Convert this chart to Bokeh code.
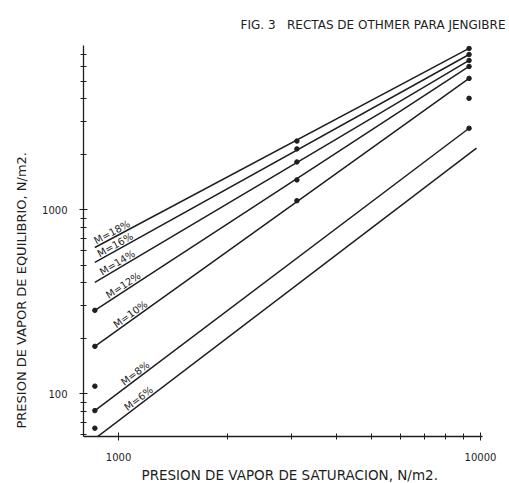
import math
from bokeh.plotting import figure
from bokeh.models import FixedTicker, NumeralTickFormatter, ColumnDataSource, Range1d, Title
from bokeh.core.properties import value
from bokeh.embed import file_html
from bokeh.resources import INLINE

# ---- data ----
moisture_labels = ["M=18%", "M=16%", "M=14%", "M=12%", "M=10%", "M=8%", "M=6%"]
# line end points (saturation pressure, equilibrium pressure), N/m2
line_x0 = [860, 860, 860, 860, 860, 860, 870]
line_x1 = [9300, 9300, 9300, 9300, 9300, 9300, 9750]
line_y0 = [623, 517, 403, 284, 181, 81, 58]
line_y1 = [7520, 6970, 6470, 6000, 5170, 2770, 2160]
# measured points
pts_x = [9300, 9300, 9300, 9300, 9300, 9300,
         3110, 3110, 3110, 3110, 3110,
         860, 860, 860, 860, 860]
pts_y = [7520, 6970, 6470, 6000, 5170, 2770,
         2360, 2140, 1817, 1452, 1119,
         284, 181, 81, 110, 65]
extra_x = [9300]
extra_y = [4030]
# label anchor abscissa on each line
label_at = [975, 995, 1010, 1050, 1100, 1135, 1160]

x_major = [1000, 10000]
x_minor = [2000, 3000, 4000, 5000, 6000, 7000, 8000, 9000]
y_major = [100, 1000]
y_minor = [60, 70, 80, 90, 200, 300, 400, 500, 600, 700, 800, 900,
           2000, 3000, 4000, 5000, 6000, 7000]

XR = (800, 10130)
YR = (58.6, 7800)
FW, FH = 400, 393

FONT = "DejaVu Sans"
INK = "#1e1e1e"

p = figure(width=509, height=483, x_axis_type="log", y_axis_type="log",
           x_range=Range1d(*XR), y_range=Range1d(*YR),
           output_backend="svg", toolbar_location=None,
           min_border_left=82, min_border_right=27, min_border_top=45, min_border_bottom=45)
p.grid.visible = False
p.outline_line_color = None
p.background_fill_color = "white"
p.border_fill_color = "white"

p.title.text = "FIG. 3\u00a0\u00a0\u00a0RECTAS DE OTHMER PARA JENGIBRE"
p.title.align = "right"
p.title.offset = -23
p.title.vertical_align = "top"
p.title.standoff = 24
p.title.text_font = FONT
p.title.text_font_size = "12px"
p.title.text_font_style = "normal"
p.title.text_color = INK

for ax, maj, mnr in ((p.xaxis[0], x_major, x_minor), (p.yaxis[0], y_major, y_minor)):
    ax.ticker = FixedTicker(ticks=maj, minor_ticks=mnr)
    ax.formatter = NumeralTickFormatter(format="0")
    ax.axis_line_color = INK
    ax.axis_line_width = 1.3
    ax.major_tick_line_color = INK
    ax.minor_tick_line_color = INK
    ax.major_tick_in = 4
    ax.major_tick_out = 4
    ax.minor_tick_in = 3
    ax.minor_tick_out = 3
    ax.major_label_text_font = FONT
    ax.major_label_text_font_size = "10px"
    ax.major_label_text_color = INK
p.xaxis.major_label_standoff = 12
p.yaxis.major_label_standoff = 12

xtitle = Title(text="PRESION DE VAPOR DE SATURACION, N/m2.", align="left", offset=58,
               standoff=2, text_font=FONT, text_font_size="13.5px",
               text_font_style="normal", text_color=INK)
p.add_layout(xtitle, "below")
ytitle = Title(text="PRESION DE VAPOR DE EQUILIBRIO, N/m2.", align="left", offset=8,
               standoff=22, text_font=FONT, text_font_size="13px",
               text_font_style="normal", text_color=INK)
p.add_layout(ytitle, "left")

# lines
src = ColumnDataSource(dict(xs=[[a, b] for a, b in zip(line_x0, line_x1)],
                            ys=[[a, b] for a, b in zip(line_y0, line_y1)]))
p.multi_line("xs", "ys", source=src, line_color=INK, line_width=1.5)
p.scatter(pts_x, pts_y, size=4.5, color=INK)
p.scatter(extra_x, extra_y, size=4.5, color=INK)

# labels along lines
lx = math.log10(XR[1] / XR[0]); ly = math.log10(YR[1] / YR[0])
ppx = FW / lx; ppy = FH / ly
lab_y, lab_ang = [], []
for x0, x1, y0, y1, xa in zip(line_x0, line_x1, line_y0, line_y1, label_at):
    t = math.log10(xa / x0) / math.log10(x1 / x0)
    lab_y.append(10 ** (math.log10(y0) + t * math.log10(y1 / y0)))
    lab_ang.append(math.atan2(math.log10(y1 / y0) * ppy, math.log10(x1 / x0) * ppx))
p.text(x=label_at, y=lab_y, text=moisture_labels, angle=lab_ang,
       text_font=value(FONT), text_font_size="10px", text_color=INK,
       text_align="center", text_baseline="bottom", y_offset=0)

open("out.html", "w").write(file_html(p, INLINE))
